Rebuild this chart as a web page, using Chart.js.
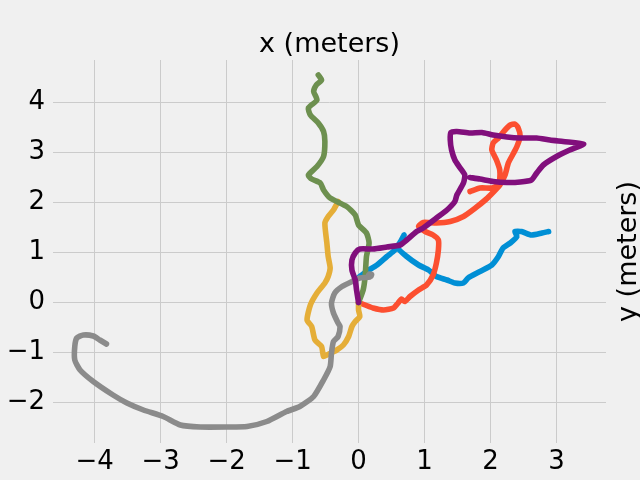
<!DOCTYPE html>
<html><head><meta charset="utf-8">
<script src="https://cdn.jsdelivr.net/npm/chart.js@4/dist/chart.umd.min.js"></script>
<style>html,body{margin:0;padding:0;background:#f0f0f0;} canvas{display:block;}</style>
</head><body>
<canvas id="c" width="640" height="480"></canvas>
<script>
const xTicks = [-4, -3, -2, -1, 0, 1, 2, 3];
const yTicks = [-2, -1, 0, 1, 2, 3, 4];
const xTitle = "x (meters)";
const yTitle = "y (meters)";

const blueX = [0.0, 0.12, 0.28, 0.43, 0.55, 0.65, 0.69, 0.60, 0.73, 0.91, 1.06, 1.18, 1.34, 1.46, 1.59, 1.66, 1.84, 2.02, 2.12, 2.19, 2.30, 2.40, 2.37, 2.47, 2.62, 2.78, 2.88];
const blueY = [0.50, 0.62, 0.75, 0.92, 1.05, 1.25, 1.35, 1.09, 0.92, 0.75, 0.65, 0.52, 0.45, 0.39, 0.39, 0.49, 0.62, 0.75, 0.92, 1.09, 1.19, 1.32, 1.42, 1.42, 1.35, 1.39, 1.42];

const redX = [0, 0.10, 0.22, 0.38, 0.53, 0.60, 0.65, 0.70, 0.78, 0.91, 1.03, 1.13, 1.18, 1.21, 1.21, 1.13, 1.01, 0.91, 0.98, 1.18, 1.39, 1.59, 1.77, 1.92, 2.00, 2.14, 2.22, 2.27, 2.35, 2.40, 2.45, 2.42, 2.37, 2.30, 2.22, 2.12, 2.04, 2.02, 2.09, 2.14, 2.14, 2.12, 2.02, 1.84, 1.69];
const redY = [0, -0.05, -0.11, -0.15, -0.11, -0.01, 0.07, 0.02, 0.12, 0.25, 0.35, 0.55, 0.79, 1.05, 1.25, 1.35, 1.42, 1.52, 1.60, 1.59, 1.62, 1.72, 1.89, 2.05, 2.15, 2.35, 2.55, 2.79, 2.99, 3.12, 3.32, 3.49, 3.57, 3.55, 3.45, 3.29, 3.19, 3.05, 2.85, 2.65, 2.45, 2.35, 2.29, 2.29, 2.22];

const yellowX = [0, 0.0, 0.02, -0.05, -0.10, -0.15, -0.23, -0.33, -0.48, -0.53, -0.56, -0.66, -0.71, -0.78, -0.73, -0.63, -0.51, -0.46, -0.43, -0.46, -0.48, -0.51, -0.46, -0.38, -0.31];
const yellowY = [0, -0.15, -0.28, -0.38, -0.48, -0.68, -0.85, -0.95, -1.05, -1.08, -0.88, -0.75, -0.48, -0.35, -0.05, 0.19, 0.39, 0.52, 0.69, 0.92, 1.19, 1.59, 1.72, 1.85, 2.02];

const greenX = [0, 0.07, 0.10, 0.12, 0.16, 0.12, 0.0, -0.05, -0.18, -0.43, -0.53, -0.58, -0.71, -0.76, -0.63, -0.53, -0.51, -0.53, -0.61, -0.73, -0.76, -0.63, -0.68, -0.64, -0.56, -0.61];
const greenY = [0, 0.25, 0.52, 0.92, 1.19, 1.39, 1.55, 1.75, 1.92, 2.09, 2.25, 2.39, 2.47, 2.55, 2.72, 2.92, 3.22, 3.42, 3.59, 3.75, 3.89, 4.05, 4.22, 4.35, 4.45, 4.55];

const grayX = [0.19, 0.20, 0.17, 0.15, 0.17, 0.02, -0.10, -0.25, -0.36, -0.41, -0.38, -0.31, -0.28, -0.31, -0.38, -0.41, -0.43, -0.53, -0.68, -0.89, -1.09, -1.39, -1.69, -2.0, -2.40, -2.70, -2.96, -3.26, -3.51, -3.72, -4.02, -4.22, -4.30, -4.30, -4.27, -4.17, -4.02, -3.92, -3.82];
const grayY = [0.53, 0.56, 0.57, 0.54, 0.51, 0.49, 0.42, 0.32, 0.19, -0.01, -0.21, -0.41, -0.48, -0.68, -0.78, -1.01, -1.28, -1.55, -1.88, -2.08, -2.18, -2.38, -2.48, -2.49, -2.49, -2.45, -2.28, -2.15, -2.01, -1.85, -1.58, -1.35, -1.15, -0.88, -0.71, -0.65, -0.67, -0.75, -0.83];

const purpleX = [0, -0.03, -0.05, -0.10, -0.10, -0.05, 0.02, 0.22, 0.43, 0.63, 0.73, 0.88, 0.98, 1.18, 1.34, 1.46, 1.49, 1.59, 1.61, 1.54, 1.46, 1.41, 1.39, 1.40, 1.49, 1.69, 1.87, 2.04, 2.25, 2.45, 2.70, 2.90, 3.10, 3.41, 3.20, 3.00, 2.80, 2.70, 2.62, 2.45, 2.25, 2.04, 1.84, 1.69];
const purpleY = [0, 0.25, 0.45, 0.65, 0.85, 0.99, 1.07, 1.07, 1.11, 1.15, 1.25, 1.42, 1.49, 1.69, 1.85, 2.02, 2.15, 2.39, 2.55, 2.69, 2.85, 3.05, 3.25, 3.40, 3.42, 3.39, 3.40, 3.35, 3.31, 3.29, 3.29, 3.25, 3.22, 3.17, 3.05, 2.92, 2.75, 2.59, 2.45, 2.41, 2.40, 2.42, 2.47, 2.50];

const seriesList = [
  {xs: blueX, ys: blueY, color: '#008fd5'},
  {xs: redX, ys: redY, color: '#fc4f30'},
  {xs: yellowX, ys: yellowY, color: '#e5ae38'},
  {xs: greenX, ys: greenY, color: '#6d904f'},
  {xs: grayX, ys: grayY, color: '#8b8b8b'},
  {xs: purpleX, ys: purpleY, color: '#810f7c'}
];

const fmt = v => (v < 0 ? '\u2212' + Math.abs(v) : String(v));

const labelPlugin = {
  id: 'labels',
  afterDraw(chart) {
    const ctx = chart.ctx, a = chart.chartArea;
    ctx.save();
    ctx.fillStyle = '#000';
    ctx.font = "27px 'DejaVu Sans'";
    ctx.textAlign = 'center';
    ctx.textBaseline = 'alphabetic';
    ctx.fillText(xTitle, (a.left + a.right) / 2, 52);
    ctx.translate(636, (a.top + a.bottom) / 2);
    ctx.rotate(-Math.PI / 2);
    ctx.fillText(yTitle, 0, 0);
    ctx.restore();
  }
};

Chart.defaults.font.family = "'DejaVu Sans'";
new Chart(document.getElementById('c'), {
  type: 'line',
  data: {
    datasets: seriesList.map((s, i) => ({
      data: s.xs.map((x, j) => ({x: x, y: s.ys[j]})),
      borderColor: s.color,
      backgroundColor: s.color,
      borderWidth: 5.6,
      pointRadius: 0,
      borderCapStyle: 'round',
      borderJoinStyle: 'round',
      tension: 0.2,
      fill: false,
      order: seriesList.length - 1 - i
    }))
  },
  options: {
    responsive: false,
    animation: false,
    events: [],
    layout: {padding: {top: 60, right: 34, left: 0, bottom: 0}},
    plugins: {legend: {display: false}, title: {display: false}, tooltip: {enabled: false}},
    scales: {
      x: {
        type: 'linear', min: -4.63, max: 3.75,
        afterBuildTicks: s => { s.ticks = xTicks.map(v => ({value: v})); },
        afterFit: s => { s.height = 37; },
        grid: {color: '#cbcbcb', lineWidth: 1, drawTicks: false},
        border: {display: false},
        ticks: {color: '#000', font: {size: 26}, padding: 4, callback: v => fmt(v), maxRotation: 0, autoSkip: false}
      },
      y: {
        type: 'linear', min: -2.81, max: 4.85,
        afterBuildTicks: s => { s.ticks = yTicks.map(v => ({value: v})); },
        afterFit: s => { s.width = 53; },
        grid: {color: '#cbcbcb', lineWidth: 1, drawTicks: false},
        border: {display: false},
        ticks: {color: '#000', font: {size: 26}, padding: 8, callback: v => fmt(v), autoSkip: false}
      }
    }
  },
  plugins: [labelPlugin]
});
</script>
</body></html>
